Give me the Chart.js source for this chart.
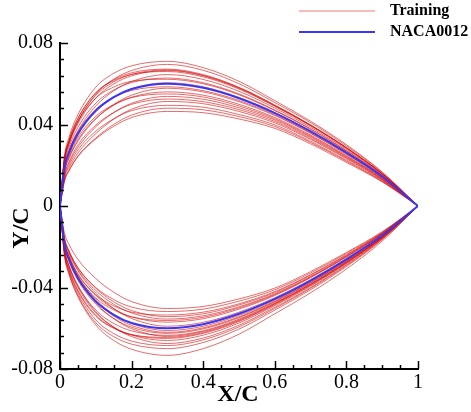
<!DOCTYPE html>
<html>
  <head>
    <title>Airfoil Shapes</title>
    <script src="https://cdn.jsdelivr.net/npm/chart.js@4.4.0/dist/chart.umd.min.js"></script>
    <style>
      body { margin: 0; background: #fff; }
    </style>
  </head>
  <body>
    <canvas id="myChart" width="471" height="412"></canvas>
    <script>
      // chordwise stations (X/C)
      const xStations = [0, 0.0125, 0.025, 0.05, 0.1, 0.15, 0.2, 0.3, 0.4, 0.5, 0.6, 0.7, 0.8, 0.9, 1];

      const nacaUpper = [0, 0.0189, 0.0262, 0.0355, 0.0468, 0.0534, 0.0574, 0.0600, 0.0580, 0.0529, 0.0456, 0.0366, 0.0262, 0.0145, 0];
      const nacaLower = [0, -0.0189, -0.0262, -0.0355, -0.0468, -0.0534, -0.0574, -0.0600, -0.0580, -0.0529, -0.0456, -0.0366, -0.0262, -0.0145, 0];

      // training airfoils, upper surfaces
      const trainUpper = [
        [0, 0.0245, 0.0336, 0.0448, 0.0583, 0.0651, 0.0688, 0.0710, 0.0679, 0.0612, 0.0517, 0.0416, 0.0301, 0.0167, 0],
        [0, 0.0226, 0.0311, 0.0416, 0.0548, 0.0622, 0.0665, 0.0695, 0.0666, 0.0600, 0.0508, 0.0409, 0.0295, 0.0164, 0],
        [0, 0.0233, 0.0321, 0.0429, 0.0556, 0.0620, 0.0654, 0.0672, 0.0645, 0.0583, 0.0496, 0.0398, 0.0287, 0.0159, 0],
        [0, 0.0218, 0.0301, 0.0404, 0.0530, 0.0599, 0.0639, 0.0665, 0.0639, 0.0578, 0.0492, 0.0395, 0.0285, 0.0158, 0],
        [0, 0.0234, 0.0322, 0.0430, 0.0555, 0.0615, 0.0646, 0.0660, 0.0634, 0.0574, 0.0489, 0.0393, 0.0283, 0.0157, 0],
        [0, 0.0197, 0.0273, 0.0369, 0.0491, 0.0565, 0.0611, 0.0645, 0.0621, 0.0563, 0.0481, 0.0386, 0.0278, 0.0154, 0],
        [0, 0.0208, 0.0287, 0.0386, 0.0505, 0.0569, 0.0606, 0.0628, 0.0605, 0.0550, 0.0471, 0.0379, 0.0272, 0.0151, 0],
        [0, 0.0223, 0.0307, 0.0412, 0.0529, 0.0584, 0.0612, 0.0622, 0.0600, 0.0546, 0.0468, 0.0376, 0.0270, 0.0149, 0],
        [0, 0.0185, 0.0257, 0.0349, 0.0463, 0.0532, 0.0575, 0.0605, 0.0585, 0.0533, 0.0459, 0.0368, 0.0264, 0.0146, 0],
        [0, 0.0194, 0.0269, 0.0364, 0.0474, 0.0533, 0.0567, 0.0585, 0.0566, 0.0518, 0.0448, 0.0359, 0.0257, 0.0142, 0],
        [0, 0.0167, 0.0233, 0.0318, 0.0427, 0.0498, 0.0544, 0.0578, 0.0560, 0.0512, 0.0444, 0.0356, 0.0254, 0.0141, 0],
        [0, 0.0171, 0.0238, 0.0325, 0.0430, 0.0494, 0.0534, 0.0560, 0.0544, 0.0499, 0.0434, 0.0348, 0.0248, 0.0137, 0],
        [0, 0.0178, 0.0248, 0.0337, 0.0440, 0.0498, 0.0532, 0.0550, 0.0535, 0.0491, 0.0428, 0.0343, 0.0244, 0.0135, 0],
        [0, 0.0149, 0.0209, 0.0288, 0.0389, 0.0458, 0.0504, 0.0538, 0.0524, 0.0482, 0.0422, 0.0338, 0.0240, 0.0133, 0],
        [0, 0.0155, 0.0217, 0.0299, 0.0397, 0.0459, 0.0499, 0.0525, 0.0512, 0.0473, 0.0415, 0.0332, 0.0236, 0.0130, 0],
        [0, 0.0132, 0.0186, 0.0260, 0.0355, 0.0426, 0.0475, 0.0513, 0.0502, 0.0464, 0.0408, 0.0327, 0.0232, 0.0128, 0],
        [0, 0.0141, 0.0198, 0.0275, 0.0367, 0.0428, 0.0468, 0.0494, 0.0485, 0.0449, 0.0398, 0.0318, 0.0225, 0.0124, 0],
        [0, 0.0123, 0.0174, 0.0245, 0.0334, 0.0400, 0.0446, 0.0480, 0.0472, 0.0439, 0.0390, 0.0312, 0.0220, 0.0121, 0],
        [0, 0.0122, 0.0172, 0.0243, 0.0329, 0.0391, 0.0434, 0.0464, 0.0458, 0.0427, 0.0381, 0.0305, 0.0214, 0.0118, 0],
        [0, 0.0226, 0.0311, 0.0416, 0.0543, 0.0609, 0.0646, 0.0668, 0.0641, 0.0580, 0.0493, 0.0397, 0.0286, 0.0159, 0]
      ];

      // training airfoils, lower surfaces
      const trainLower = [
        [0, -0.0133, -0.0188, -0.0262, -0.0356, -0.0423, -0.0469, -0.0503, -0.0493, -0.0456, -0.0403, -0.0322, -0.0228, -0.0126, 0],
        [0, -0.0158, -0.0221, -0.0303, -0.0400, -0.0459, -0.0496, -0.0518, -0.0506, -0.0467, -0.0411, -0.0329, -0.0233, -0.0129, 0],
        [0, -0.0157, -0.0220, -0.0302, -0.0404, -0.0470, -0.0513, -0.0543, -0.0529, -0.0486, -0.0425, -0.0340, -0.0242, -0.0134, 0],
        [0, -0.0184, -0.0255, -0.0346, -0.0452, -0.0510, -0.0544, -0.0562, -0.0546, -0.0500, -0.0435, -0.0349, -0.0249, -0.0137, 0],
        [0, -0.0182, -0.0253, -0.0343, -0.0458, -0.0531, -0.0577, -0.0611, -0.0590, -0.0537, -0.0462, -0.0371, -0.0266, -0.0147, 0],
        [0, -0.0211, -0.0291, -0.0391, -0.0511, -0.0576, -0.0613, -0.0635, -0.0612, -0.0555, -0.0475, -0.0382, -0.0274, -0.0152, 0],
        [0, -0.0189, -0.0262, -0.0355, -0.0476, -0.0553, -0.0602, -0.0640, -0.0616, -0.0559, -0.0478, -0.0384, -0.0276, -0.0153, 0],
        [0, -0.0227, -0.0313, -0.0419, -0.0541, -0.0600, -0.0631, -0.0645, -0.0621, -0.0563, -0.0481, -0.0386, -0.0278, -0.0154, 0],
        [0, -0.0216, -0.0298, -0.0400, -0.0525, -0.0594, -0.0634, -0.0660, -0.0634, -0.0574, -0.0489, -0.0393, -0.0283, -0.0157, 0],
        [0, -0.0211, -0.0291, -0.0391, -0.0519, -0.0595, -0.0641, -0.0675, -0.0648, -0.0585, -0.0497, -0.0400, -0.0288, -0.0160, 0],
        [0, -0.0240, -0.0330, -0.0440, -0.0573, -0.0641, -0.0678, -0.0700, -0.0670, -0.0604, -0.0511, -0.0411, -0.0297, -0.0165, 0],
        [0, -0.0243, -0.0334, -0.0445, -0.0584, -0.0660, -0.0703, -0.0733, -0.0700, -0.0629, -0.0529, -0.0426, -0.0309, -0.0172, 0],
        [0, -0.0178, -0.0247, -0.0336, -0.0436, -0.0490, -0.0521, -0.0535, -0.0521, -0.0480, -0.0420, -0.0337, -0.0239, -0.0132, 0],
        [0, -0.0194, -0.0269, -0.0364, -0.0482, -0.0552, -0.0595, -0.0625, -0.0603, -0.0548, -0.0470, -0.0377, -0.0271, -0.0150, 0],
        [0, -0.0166, -0.0232, -0.0317, -0.0428, -0.0503, -0.0552, -0.0590, -0.0571, -0.0521, -0.0450, -0.0361, -0.0258, -0.0143, 0],
        [0, -0.0224, -0.0308, -0.0413, -0.0536, -0.0598, -0.0632, -0.0650, -0.0625, -0.0567, -0.0484, -0.0389, -0.0280, -0.0155, 0],
        [0, -0.0175, -0.0244, -0.0332, -0.0439, -0.0504, -0.0544, -0.0570, -0.0553, -0.0506, -0.0439, -0.0352, -0.0251, -0.0139, 0],
        [0, -0.0233, -0.0321, -0.0429, -0.0559, -0.0626, -0.0663, -0.0685, -0.0657, -0.0593, -0.0503, -0.0404, -0.0292, -0.0162, 0],
        [0, -0.0186, -0.0258, -0.0350, -0.0467, -0.0540, -0.0586, -0.0620, -0.0598, -0.0544, -0.0467, -0.0375, -0.0269, -0.0149, 0],
        [0, -0.0163, -0.0227, -0.0311, -0.0415, -0.0482, -0.0525, -0.0555, -0.0539, -0.0495, -0.0431, -0.0346, -0.0246, -0.0136, 0]
      ];

      const xTicks = [0, 0.2, 0.4, 0.6, 0.8, 1];
      const xTickLabels = ["0", "0.2", "0.4", "0.6", "0.8", "1"];
      const yTicks = [-0.08, -0.04, 0, 0.04, 0.08];
      const yTickLabels = ["-0.08", "-0.04", "0", "0.04", "0.08"];
      const legendLabels = ["Training", "NACA0012"];

      const RED = "rgba(212, 0, 0, 0.58)";
      const BLUE = "rgb(55, 55, 245)";
      const SERIF = "'Liberation Serif', 'Times New Roman', serif";

      const toPoints = (ys) => xStations.map((x, i) => ({ x: x, y: ys[i] }));

      const datasets = [];
      trainUpper.concat(trainLower).forEach((ys) => {
        datasets.push({
          label: legendLabels[0],
          data: toPoints(ys),
          borderColor: RED,
          borderWidth: 1,
          order: 1,
        });
      });
      [nacaUpper, nacaLower].forEach((ys) => {
        datasets.push({
          label: legendLabels[1],
          data: toPoints(ys),
          borderColor: BLUE,
          borderWidth: 2,
          order: 0,
        });
      });

      // inward ticks, axis titles and legend
      const decorations = {
        id: "decorations",
        afterDraw(chart) {
          const ctx = chart.ctx;
          const a = chart.chartArea;
          const sx = chart.scales.x;
          const sy = chart.scales.y;
          ctx.save();
          ctx.strokeStyle = "#000";
          ctx.lineWidth = 1.5;
          ctx.beginPath();
          for (let i = 0; i <= 20; i++) {
            const px = Math.round(sx.getPixelForValue(i * 0.05)) + 0.5;
            const len = i % 4 === 0 ? 8 : 4;
            ctx.moveTo(px, a.bottom);
            ctx.lineTo(px, a.bottom - len);
          }
          for (let i = 0; i <= 20; i++) {
            const py = Math.round(sy.getPixelForValue(-0.08 + i * 0.008)) + 0.5;
            const len = i % 5 === 0 ? 8 : 4;
            ctx.moveTo(a.left, py);
            ctx.lineTo(a.left + len, py);
          }
          ctx.stroke();

          ctx.fillStyle = "#000";
          ctx.font = "bold 24px " + SERIF;
          ctx.textAlign = "center";
          ctx.textBaseline = "middle";
          ctx.fillText("X/C", 238, 395);
          ctx.save();
          ctx.translate(22, 228);
          ctx.rotate(-Math.PI / 2);
          ctx.fillText("Y/C", 0, 0);
          ctx.restore();

          // legend
          ctx.lineWidth = 1.5;
          ctx.strokeStyle = "rgb(245, 165, 165)";
          ctx.beginPath();
          ctx.moveTo(299, 11);
          ctx.lineTo(375, 11);
          ctx.stroke();
          ctx.lineWidth = 2;
          ctx.strokeStyle = BLUE;
          ctx.beginPath();
          ctx.moveTo(299, 32);
          ctx.lineTo(375, 32);
          ctx.stroke();
          ctx.font = "bold 16px " + SERIF;
          ctx.textAlign = "left";
          ctx.fillText(legendLabels[0], 390, 11);
          ctx.fillText(legendLabels[1], 390, 32);
          ctx.restore();
        },
      };

      const ctx = document.getElementById("myChart").getContext("2d");
      new Chart(ctx, {
        type: "line",
        data: { datasets: datasets },
        options: {
          responsive: false,
          animation: false,
          layout: { padding: { top: 43, right: 53, left: 0, bottom: 0 } },
          elements: {
            point: { radius: 0 },
            line: { cubicInterpolationMode: "monotone", fill: false },
          },
          plugins: {
            legend: { display: false },
            tooltip: { enabled: false },
          },
          scales: {
            x: {
              type: "linear",
              min: 0,
              max: 1,
              afterBuildTicks: (s) => {
                s.ticks = xTicks.map((v) => ({ value: v }));
              },
              afterFit: (s) => {
                s.height = 43;
              },
              ticks: {
                callback: (v, i) => xTickLabels[i],
                font: { family: SERIF, size: 20 },
                color: "#000",
                padding: 2,
                maxRotation: 0,
                autoSkip: false,
              },
              grid: { display: false, drawTicks: false },
              border: { display: true, color: "#000", width: 2 },
            },
            y: {
              type: "linear",
              min: -0.08,
              max: 0.08,
              afterBuildTicks: (s) => {
                s.ticks = yTicks.map((v) => ({ value: v }));
              },
              afterFit: (s) => {
                s.width = 60;
              },
              ticks: {
                callback: (v, i) => yTickLabels[i],
                font: { family: SERIF, size: 20 },
                color: "#000",
                padding: 7,
                autoSkip: false,
              },
              grid: { display: false, drawTicks: false },
              border: { display: true, color: "#000", width: 2 },
            },
          },
        },
        plugins: [decorations],
      });
    </script>
  </body>
</html>
